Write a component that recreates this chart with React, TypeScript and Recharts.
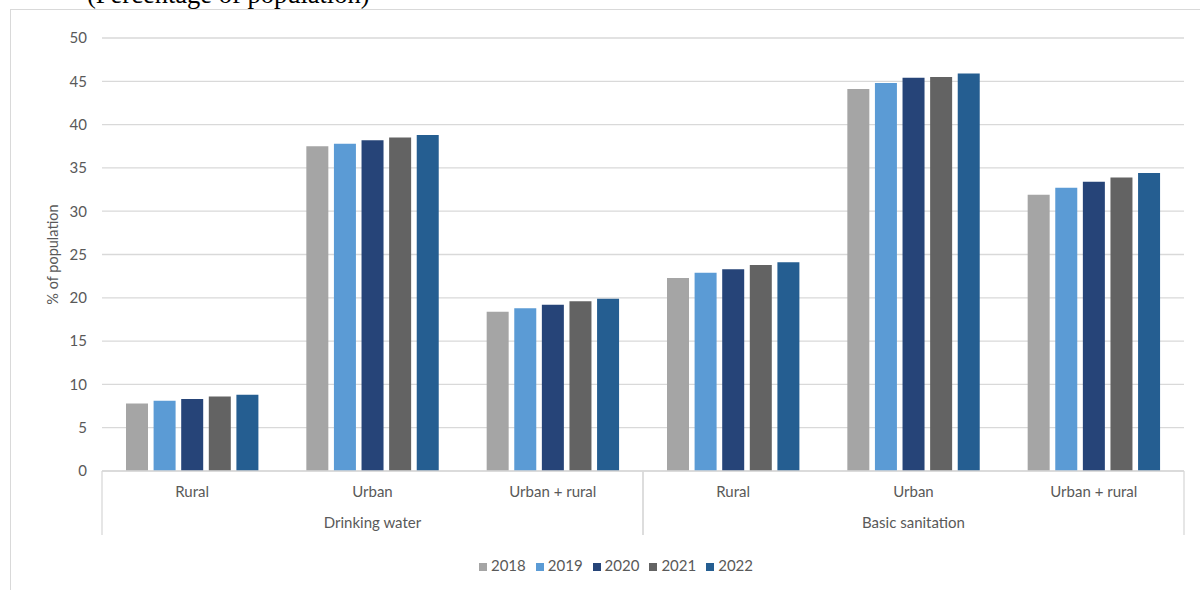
import React from 'react';
import { BarChart, Bar, XAxis, YAxis, CartesianGrid, Legend, Customized } from 'recharts';

const categories = ['Rural', 'Urban', 'Urban + rural', 'Rural', 'Urban', 'Urban + rural'];
const groups = ['Drinking water', 'Drinking water', 'Drinking water', 'Basic sanitation', 'Basic sanitation', 'Basic sanitation'];
const years = ['2018', '2019', '2020', '2021', '2022'];
const v2018 = [7.8, 37.5, 18.4, 22.3, 44.1, 31.9];
const v2019 = [8.1, 37.8, 18.8, 22.9, 44.8, 32.7];
const v2020 = [8.3, 38.2, 19.2, 23.3, 45.4, 33.4];
const v2021 = [8.6, 38.5, 19.6, 23.8, 45.5, 33.9];
const v2022 = [8.8, 38.8, 19.9, 24.1, 45.9, 34.4];
const yTicks = [0, 5, 10, 15, 20, 25, 30, 35, 40, 45, 50];
const colors = ['#A5A5A5', '#5B9BD5', '#264478', '#636363', '#255E91'];
const title = '(Percentage of population)';
const yLabel = '% of population';

const series = [v2018, v2019, v2020, v2021, v2022];

const data = categories.map((c, i) => {
  const row: Record<string, any> = { key: `${groups[i]}|${c}|${i}`, cat: c, group: groups[i] };
  years.forEach((y, k) => {
    row[y] = series[k][i];
  });
  return row;
});

const W = 1200;
const H = 590;
const MARGIN = { top: 38, right: 16, left: 0, bottom: 0 };
const Y_AXIS_W = 102;
const X_AXIS_H = 119;
const BAND = (W - MARGIN.left - MARGIN.right - Y_AXIS_W) / categories.length;
const TEXT = '#595959';
const LINE = '#D9D9D9';
const FONT = 'Lato, "Open Sans", sans-serif';
const FS = 15;

const AxisTick = (props: any) => {
  const { x, y, payload } = props;
  const i: number = payload && typeof payload.index === 'number' ? payload.index : props.index;
  const n = categories.length;
  const isStart = i === 0 || groups[i - 1] !== groups[i];
  const isEnd = i === n - 1 || groups[i + 1] !== groups[i];
  let groupLabel = null;
  if (isStart) {
    let j = i;
    while (j + 1 < n && groups[j + 1] === groups[i]) j++;
    const cx = x + ((j - i) * BAND) / 2;
    groupLabel = (
      <text x={cx} y={y + 57} textAnchor="middle" fill={TEXT} fontSize={FS} fontFamily={FONT}>
        {groups[i]}
      </text>
    );
  }
  return (
    <g>
      <text x={x} y={y + 26} textAnchor="middle" fill={TEXT} fontSize={FS} fontFamily={FONT}>
        {categories[i]}
      </text>
      {groupLabel}
      {isStart && <line x1={x - BAND / 2} x2={x - BAND / 2} y1={y} y2={y + 64} stroke={LINE} strokeWidth={1.3} />}
      {isEnd && <line x1={x + BAND / 2} x2={x + BAND / 2} y1={y} y2={y + 64} stroke={LINE} strokeWidth={1.3} />}
    </g>
  );
};

const Title = () => (
  <text x={87} y={3} fontFamily='"Liberation Serif", "Times New Roman", serif' fontSize={26.5} fill="#000">
    {title}
  </text>
);

export default function App() {
  return (
    <div style={{ position: 'absolute', left: 0, top: 0, width: W, height: H, background: '#fff', fontFamily: FONT, overflow: 'hidden' }}>
      <div
        style={{
          position: 'absolute',
          left: 10,
          top: 9,
          width: W,
          height: H,
          borderLeft: `1.3px solid ${LINE}`,
          borderTop: `1.3px solid ${LINE}`,
          boxSizing: 'border-box',
        }}
      />
      <BarChart
        width={W}
        height={H}
        data={data}
        margin={MARGIN}
        barCategoryGap={24}
        barGap={5.6}
        style={{ position: 'absolute', left: 0, top: 0 }}
      >
        <CartesianGrid vertical={false} stroke={LINE} strokeWidth={1.3} />
        <XAxis
          dataKey="key"
          height={X_AXIS_H}
          interval={0}
          tickLine={false}
          tickSize={0}
          tickMargin={0}
          axisLine={{ stroke: LINE, strokeWidth: 1.3 }}
          tick={<AxisTick />}
        />
        <YAxis
          width={Y_AXIS_W}
          domain={[0, 50]}
          ticks={yTicks}
          interval={0}
          axisLine={false}
          tickLine={false}
          tickSize={6}
          tickMargin={9}
          tick={{ fill: TEXT, fontSize: FS, fontFamily: FONT }}
          label={{ value: yLabel, angle: -90, position: 'center', dx: 2, fill: TEXT, fontSize: FS - 0.5, fontFamily: FONT }}
        />
        {years.map((y, k) => (
          <Bar key={y} dataKey={y} name={y} fill={colors[k]} isAnimationActive={false} />
        ))}
        <Legend
          layout="horizontal"
          verticalAlign="middle"
          align="center"
          iconType="square"
          iconSize={8}
          wrapperStyle={{ top: 555, left: 21, width: 1200 }}
          formatter={(value: any) => <span style={{ color: TEXT, fontSize: FS, fontFamily: FONT }}>{value}</span>}
        />
        <Customized component={Title} />
      </BarChart>
    </div>
  );
}
